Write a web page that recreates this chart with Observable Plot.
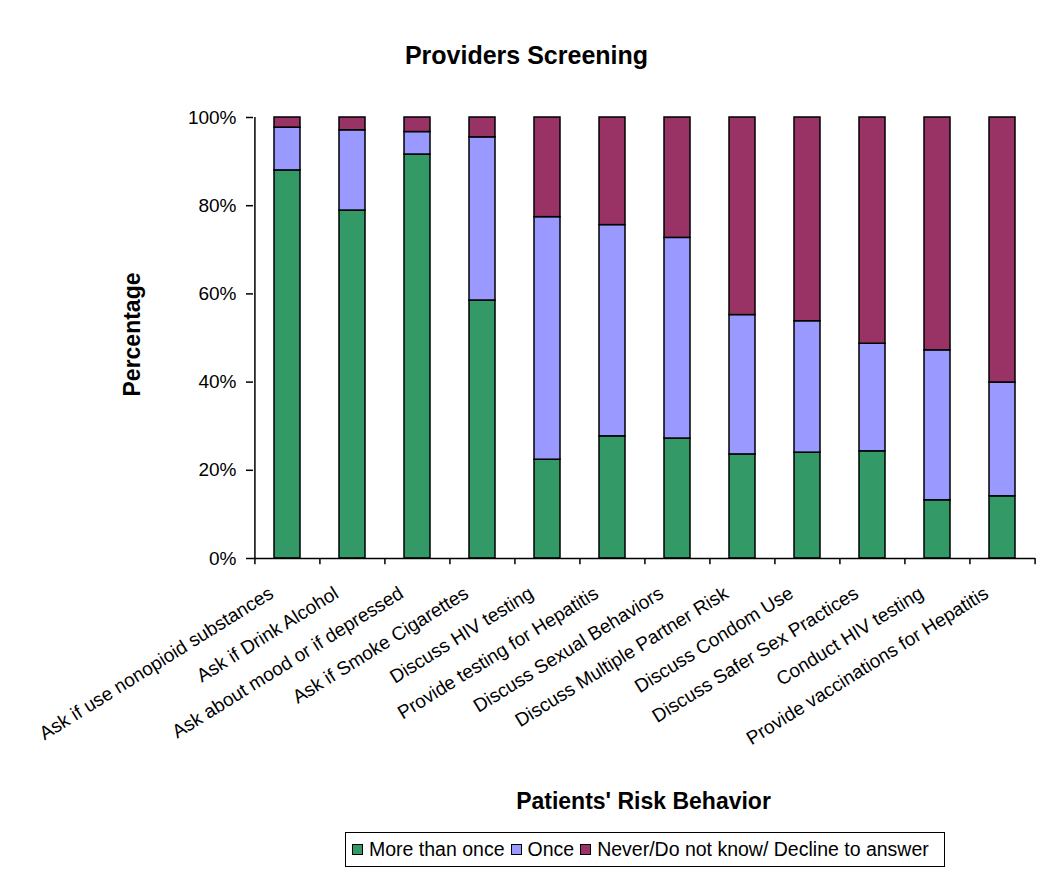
<!DOCTYPE html>
<html>
<head>
<meta charset="utf-8">
<script src="https://cdn.jsdelivr.net/npm/d3@7"></script>
<script src="https://cdn.jsdelivr.net/npm/@observablehq/plot@0.6"></script>
<style>
  html, body { margin: 0; padding: 0; background: #fff; }
  #wrap { position: relative; width: 1050px; height: 873px; font-family: "Liberation Sans", Arial, sans-serif; }
  #legend { position: absolute; left: 345px; top: 832px; width: 598px; height: 33px; border: 1px solid #000;
            display: flex; align-items: center; font-size: 19.5px; color: #000; box-sizing: content-box; }
  .item { display: flex; align-items: center; margin-left: 6px; }
  .sw { width: 9px; height: 9px; border: 1px solid #000; margin-right: 6px; }
</style>
</head>
<body>
<div id="wrap"></div>
<script>
const categories = [
  "Ask if use nonopioid substances",
  "Ask if Drink Alcohol",
  "Ask about mood or if depressed",
  "Ask if Smoke Cigarettes",
  "Discuss HIV testing",
  "Provide testing for Hepatitis",
  "Discuss Sexual Behaviors",
  "Discuss Multiple Partner Risk",
  "Discuss Condom Use",
  "Discuss Safer Sex Practices",
  "Conduct HIV testing",
  "Provide vaccinations for Hepatitis"
];
const seriesNames = ["More than once", "Once", "Never/Do not know/ Decline to answer"];
const seriesColors = ["#339966", "#9999FF", "#993366"];
const moreThanOnce = [88.0, 78.9, 91.6, 58.5, 22.4, 27.7, 27.2, 23.6, 24.0, 24.3, 13.2, 14.1];
const once         = [ 9.7, 18.2,  5.1, 37.0, 55.0, 47.9, 45.5, 31.6, 29.8, 24.4, 34.0, 25.8];
const never        = [ 2.3,  2.9,  3.3,  4.5, 22.6, 24.4, 27.3, 44.8, 46.2, 51.3, 52.8, 60.1];
const yTicks = [0, 20, 40, 60, 80, 100];

const title = "Providers Screening";
const xLabel = "Patients' Risk Behavior";
const yLabel = "Percentage";

const seriesValues = [moreThanOnce, once, never];
const rows = [];
categories.forEach((c, i) => {
  seriesNames.forEach((s, j) => rows.push({category: c, series: s, value: seriesValues[j][i]}));
});

const W = 1050, H = 873;
const mL = 253, mR = 15, mT = 117, mB = 315;
const step = (W - mL - mR) / categories.length;
const font = '"Liberation Sans", Arial, sans-serif';

const chart = Plot.plot({
  width: W, height: H,
  marginLeft: mL, marginRight: mR, marginTop: mT, marginBottom: mB,
  style: {fontFamily: font, fontSize: "19px", color: "#000", background: "#fff"},
  x: {domain: categories, paddingInner: 0.6, paddingOuter: 0.3, axis: null},
  y: {domain: [0, 100], axis: null},
  color: {domain: seriesNames, range: seriesColors},
  marks: [
    Plot.barY(rows, Plot.stackY({x: "category", y: "value", fill: "series", order: seriesNames,
      stroke: "#000", strokeWidth: 1.5})),
    // y axis line, ticks and labels
    Plot.ruleX([0], {x: () => categories[0], dx: -step / 2, y1: 0, y2: 100, stroke: "#000", strokeWidth: 1.5}),
    Plot.axisY({ticks: yTicks, tickFormat: d => d + "%", tickSize: 7, tickPadding: 10, fontSize: 19,
      label: null, stroke: "#000", strokeWidth: 1.5}),
    // x axis line
    Plot.ruleY([0], {stroke: "#000", strokeWidth: 1.5}),
    // x ticks at category boundaries
    Plot.ruleX(categories, {x: d => d, dx: -step / 2, y1: 0, y2: -1.4, stroke: "#000", strokeWidth: 1.5}),
    Plot.ruleX([categories[categories.length - 1]], {x: d => d, dx: step / 2, y1: 0, y2: -1.4, stroke: "#000", strokeWidth: 1.5}),
    // x tick labels
    Plot.text(categories, {x: d => d, text: d => d, frameAnchor: "bottom", textAnchor: "end", lineAnchor: "middle",
      rotate: -32, dx: -16, dy: 33, fontSize: 19, fill: "#000"}),
    // title & axis titles
    Plot.text([title], {frameAnchor: "top-left", text: d => d, dx: 526 - mL, dy: 46 - mT, textAnchor: "middle",
      fontSize: 25, fontWeight: "bold", fill: "#000"}),
    Plot.text([xLabel], {frameAnchor: "top-left", text: d => d, dx: 643 - mL, dy: 792 - mT, textAnchor: "middle",
      fontSize: 23, fontWeight: "bold", fill: "#000"}),
    Plot.text([yLabel], {frameAnchor: "top-left", text: d => d, dx: 123 - mL, dy: 334 - mT, textAnchor: "middle",
      rotate: -90, fontSize: 23, fontWeight: "bold", fill: "#000"})
  ]
});

const wrap = document.getElementById("wrap");
chart.style.position = "absolute";
chart.style.left = "0"; chart.style.top = "0";
wrap.appendChild(chart);

const legend = document.createElement("div");
legend.id = "legend";
seriesNames.forEach((s, j) => {
  const it = document.createElement("div");
  it.className = "item";
  const sw = document.createElement("div");
  sw.className = "sw";
  sw.style.background = seriesColors[j];
  const tx = document.createElement("span");
  tx.textContent = s;
  it.appendChild(sw); it.appendChild(tx);
  legend.appendChild(it);
});
wrap.appendChild(legend);
</script>
</body>
</html>
